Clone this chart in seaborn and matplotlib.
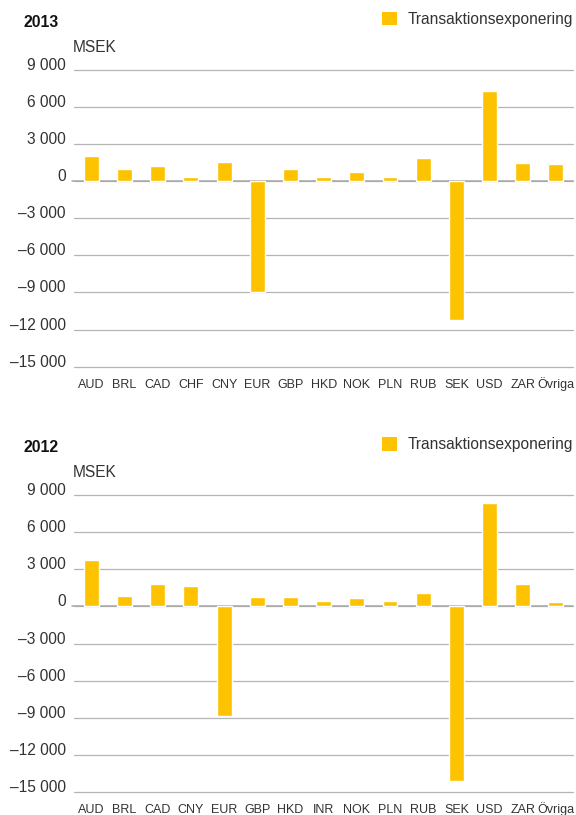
import matplotlib
matplotlib.use("Agg")
import matplotlib.pyplot as plt
from matplotlib.patches import Patch
import seaborn as sns
import pandas as pd

# Transaction exposure per currency, MSEK
currencies_2013 = ["AUD", "BRL", "CAD", "CHF", "CNY", "EUR", "GBP", "HKD",
                   "NOK", "PLN", "RUB", "SEK", "USD", "ZAR", "Övriga"]
exposure_2013 = [2050, 970, 1250, 350, 1570, -9000, 970, 350,
                 730, 350, 1890, -11250, 7250, 1490, 1400]

currencies_2012 = ["AUD", "BRL", "CAD", "CNY", "EUR", "GBP", "HKD", "INR",
                   "NOK", "PLN", "RUB", "SEK", "USD", "ZAR", "Övriga"]
exposure_2012 = [3760, 860, 1840, 1680, -8850, 790, 790, 460,
                 700, 460, 1110, -14100, 8400, 1840, 380]

y_ticks = [-15000, -12000, -9000, -6000, -3000, 0, 3000, 6000, 9000]
y_tick_labels = ["–15 000", "–12 000", "–9 000", "–6 000", "–3 000",
                 "0", "3 000", "6 000", "9 000"]

series_label = "Transaktionsexponering"
unit_label = "MSEK"

YELLOW = "#FDC300"
TEXT = "#333333"
GRID = "#b4b4b4"
FONT = ["Liberation Sans", "DejaVu Sans"]

sns.set_theme(style="white")
plt.rcParams["font.family"] = FONT

W, H = 576, 815
fig = plt.figure(figsize=(W / 100, H / 100), dpi=100)


def panel(top_px, bottom_px, year, cats, vals):
    left_px, right_px = 73.5, 572.5
    ax = fig.add_axes([left_px / W, 1 - bottom_px / H,
                       (right_px - left_px) / W, (bottom_px - top_px) / H])
    df = pd.DataFrame({"valuta": cats, "msek": vals})
    sns.barplot(data=df, x="valuta", y="msek", color=YELLOW, saturation=1,
                width=0.45, errorbar=None, ax=ax, zorder=3)
    ax.set_xlim(-0.54, 14.5)
    ax.set_ylim(y_ticks[0], y_ticks[-1])
    ax.set_yticks(y_ticks)
    ax.set_yticklabels(y_tick_labels, va="baseline", color=TEXT, fontsize=11.2)
    ax.set_xticks(range(len(cats)))
    ax.set_xticklabels(cats, va="baseline", color=TEXT, fontsize=9)
    ax.tick_params(axis="y", length=0, pad=5.4)
    ax.tick_params(axis="x", length=0, pad=15.1)
    ax.set_xlabel("")
    ax.set_ylabel("")
    for s in ax.spines.values():
        s.set_visible(False)
    ax.set_axisbelow(True)
    ax.yaxis.grid(True, color=GRID, lw=0.9)
    ax.xaxis.grid(False)
    for gl in ax.get_ygridlines():
        gl.set_clip_on(False)
    ax.axhline(0, xmin=-0.004, xmax=1, color="#a8a8a8", lw=1.1,
               clip_on=False, zorder=1)

    fig.text(24 / W, 1 - (top_px - 43) / H, year, fontsize=11.3,
             fontweight="bold", color="#111111", va="baseline", ha="left")
    fig.text(72.7 / W, 1 - (top_px - 18) / H, unit_label, fontsize=11.2,
             color=TEXT, va="baseline", ha="left")
    ax.legend(handles=[Patch(facecolor=YELLOW, edgecolor="none",
                             label=series_label)],
              loc="upper right", bbox_to_anchor=(573 / W, 1 - (top_px - 58) / H),
              bbox_transform=fig.transFigure, frameon=False, fontsize=11.2,
              labelcolor=TEXT, handlelength=0.96, handleheight=0.96,
              handletextpad=0.7, borderpad=0, borderaxespad=0)
    return ax


panel(69.7, 366.7, "2013", currencies_2013, exposure_2013)
panel(495.3, 791.7, "2012", currencies_2012, exposure_2012)

fig.savefig("out.png", dpi=100, facecolor="white")
